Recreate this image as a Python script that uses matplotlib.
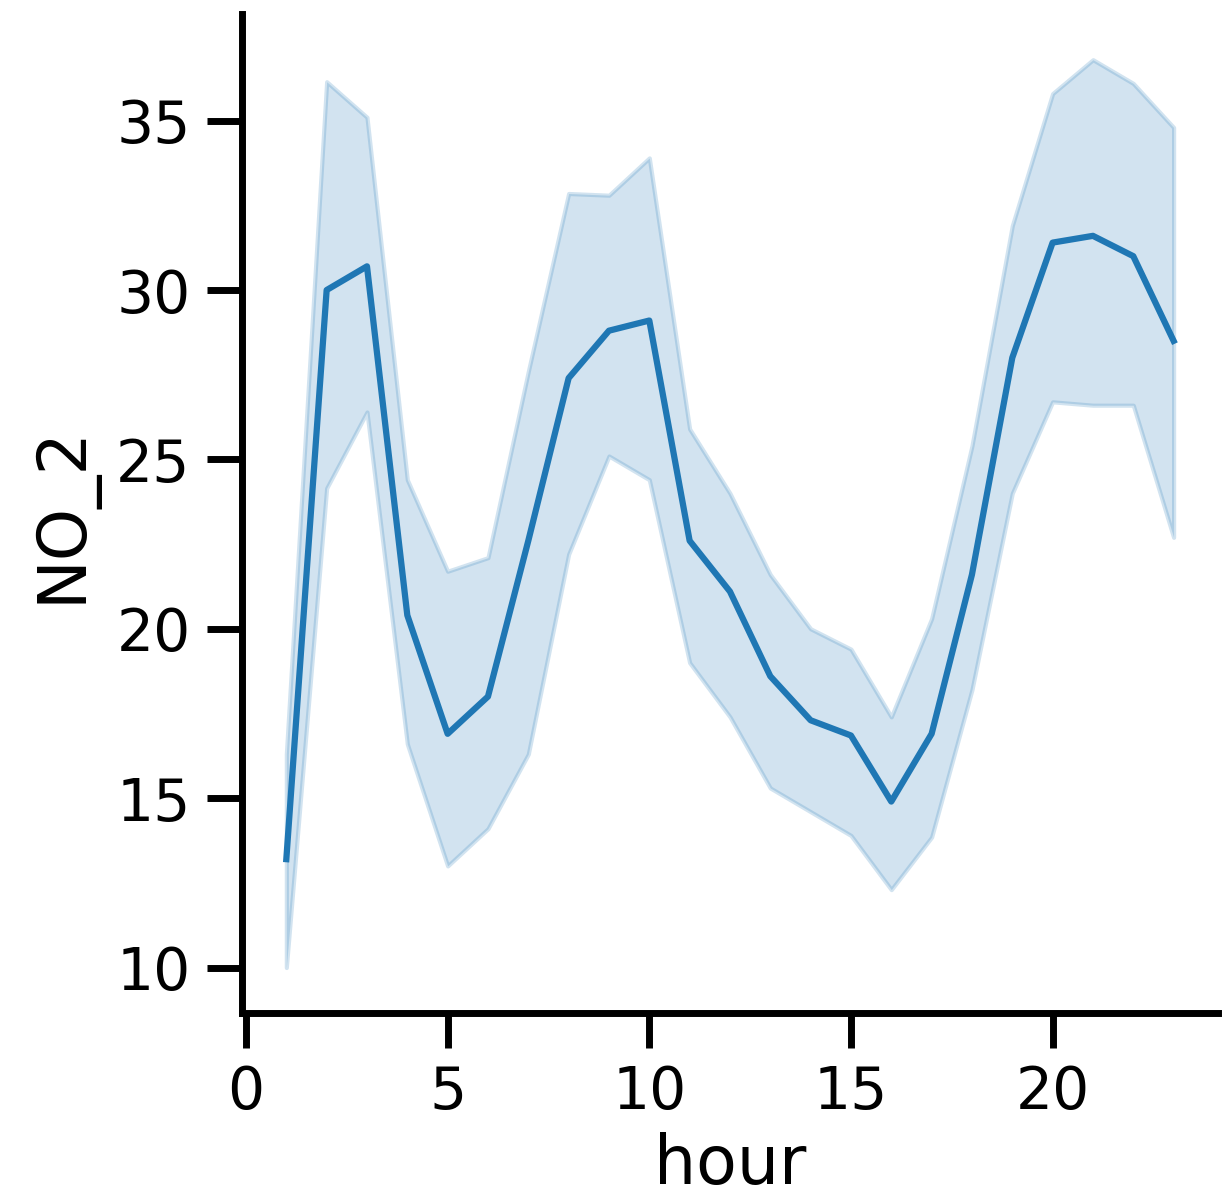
import matplotlib
matplotlib.use('Agg')
import matplotlib.pyplot as plt
import numpy as np

# hourly mean NO_2 with the confidence band
hours = list(range(1, 24))
no2_mean = [13.2, 30.0, 30.7, 20.4, 16.9, 18.0, 22.6, 27.4, 28.8, 29.1,
            22.6, 21.1, 18.6, 17.3, 16.85, 14.9, 16.9, 21.6, 28.0, 31.4,
            31.6, 31.0, 28.5]
no2_upper = [16.3, 36.15, 35.1, 24.4, 21.7, 22.1, 27.6, 32.85, 32.8, 33.9,
             25.9, 24.0, 21.6, 20.0, 19.4, 17.4, 20.3, 25.4, 31.9, 35.8,
             36.8, 36.1, 34.8]
no2_lower = [10.0, 24.15, 26.4, 16.6, 13.0, 14.1, 16.3, 22.2, 25.1, 24.4,
             19.0, 17.4, 15.3, 14.6, 13.9, 12.3, 13.85, 18.2, 24.0, 26.7,
             26.6, 26.6, 22.7]

line_color = '#1f77b4'

fig = plt.figure(figsize=(12.22, 11.91), dpi=100)
ax = fig.add_axes([0.198, 0.1495, 0.7987, 0.8385])

ax.fill_between(hours, no2_lower, no2_upper, color=line_color, alpha=0.2, linewidth=3)
ax.plot(hours, no2_mean, color=line_color, linewidth=4.5)

ax.set_xticks([0, 5, 10, 15, 20])
ax.set_yticks([10, 15, 20, 25, 30, 35])
ax.tick_params(labelsize=42, width=5, length=25, pad=12)

ax.set_xlabel('hour', fontsize=48, labelpad=8)
ax.set_ylabel('NO_2', fontsize=48, labelpad=14)

# despine like seaborn
ax.spines['top'].set_visible(False)
ax.spines['right'].set_visible(False)
ax.spines['left'].set_linewidth(5)
ax.spines['bottom'].set_linewidth(5)

fig.savefig('out.png', dpi=100)
